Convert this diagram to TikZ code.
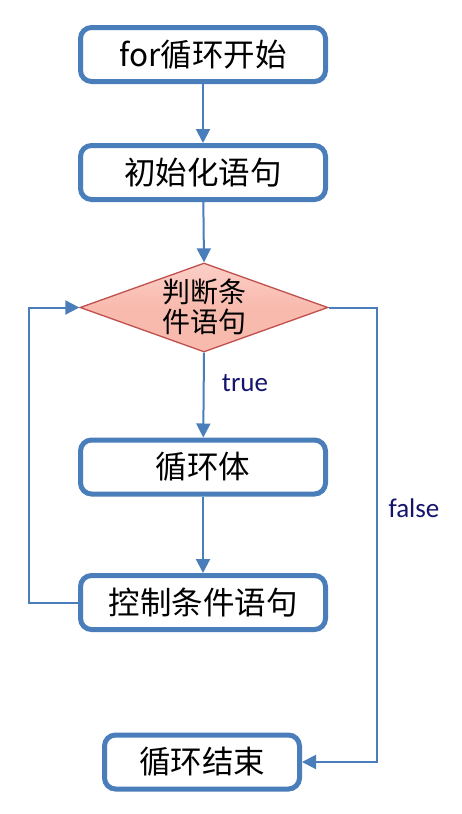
\documentclass[tikz,border=0pt]{standalone}
\usepackage{fontspec}
\setmainfont{Noto Sans CJK SC}
\newfontfamily\latinlbl{Carlito}
\usetikzlibrary{arrows.meta,shapes.geometric}
\definecolor{boxblue}{RGB}{74,126,187}
\definecolor{linkblue}{RGB}{74,126,187}
\definecolor{diafill}{RGB}{249,186,174}
\definecolor{diaedge}{RGB}{192,80,77}
\definecolor{navy}{RGB}{20,20,110}
\tikzset{
  stepbox/.style={draw=boxblue, line width=5pt, rounded corners=11pt, fill=white,
    minimum width=245pt, minimum height=54pt, inner sep=0pt, font=\fontsize{31.5}{35}\selectfont},
  decision/.style={diamond, draw=diaedge, line width=1.3pt, inner sep=0pt,
    top color=diafill!70!white, bottom color=diafill, middle color=diafill,
    minimum width=248pt, minimum height=89pt},
  link/.style={draw=linkblue, line width=2pt, -{Triangle[length=14pt,width=14pt]}},
  lbl/.style={text=navy, font=\latinlbl\fontsize{27}{30}\selectfont, inner sep=0pt}
}
\begin{document}
\begin{tikzpicture}[x=1pt,y=-1pt]
\useasboundingbox[fill=white] (0,0) rectangle (462,814);
\node[stepbox] (start) at (203,54.5) {for循环开始};
\node[stepbox] (init) at (203,172.5) {初始化语句};
\node[decision] (cond) at (204,307.5) {};
\node[align=center, inner sep=0pt, font=\fontsize{28}{30}\selectfont] (condtxt) at (204,307) {判断条\\件语句};
\node[stepbox] (body) at (203,467) {循环体};
\node[stepbox] (ctrl) at (203,602.5) {控制条件语句};
\node[stepbox, minimum width=195pt] (end) at (202,762) {循环结束};
\draw[link] (start) -- (init);
\draw[link] (init) -- (cond.north);
\draw[link] (cond.south) -- (body);
\draw[link] (body) -- (ctrl);
\draw[link] (ctrl.west) -- ++(-49,0) |- (cond.west);
\draw[link] (cond.east) -- ++(48,0) |- (end.east);
\node[lbl] (truelbl) at (245,383) {true};
\node[lbl] (falselbl) at (414,508) {false};
\end{tikzpicture}
\end{document}
